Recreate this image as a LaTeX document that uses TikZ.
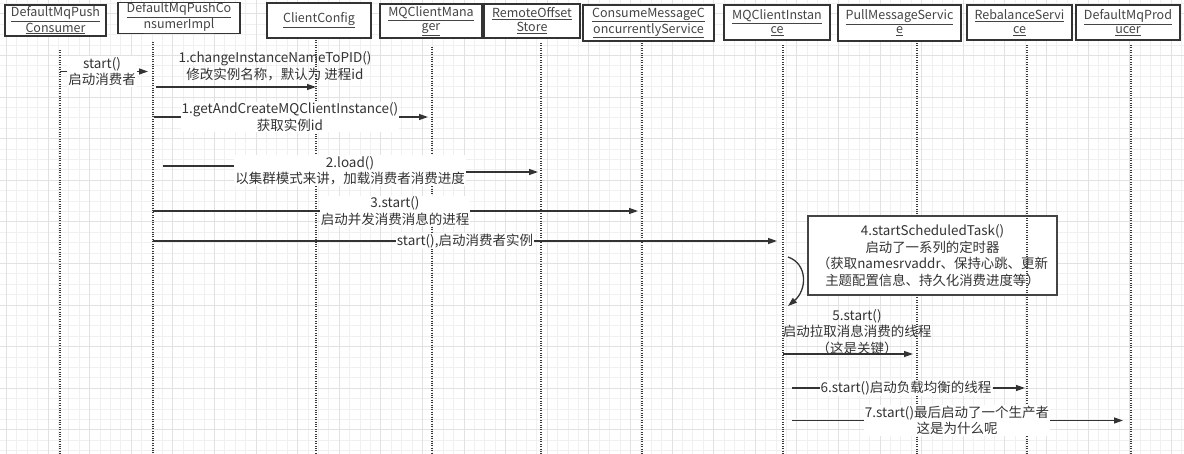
\documentclass[tikz,border=0pt]{standalone}
\usepackage{fontspec}
\setmainfont{Noto Sans CJK SC}
\usetikzlibrary{arrows.meta,positioning}

\definecolor{inkgray}{HTML}{333333}
\definecolor{txtgray}{HTML}{444444}
\definecolor{dotgray}{HTML}{3A3A3A}
\definecolor{minorline}{HTML}{F0F0F0}
\definecolor{majorline}{HTML}{E2E2E2}

\begin{document}
\begin{tikzpicture}[x=1pt,y=-1pt,
    header/.style={rectangle,
        draw=inkgray,
        line width=1.6pt,
        fill=white,
        align=center,
        inner sep=0pt,
        text=txtgray,
        font=\fontsize{12.5}{14}\selectfont},
    note/.style={rectangle,
        draw=txtgray,
        line width=1.4pt,
        fill=white,
        align=center,
        inner sep=0pt,
        text=inkgray,
        font=\fontsize{13.4}{16.6}\selectfont},
    lifeline/.style={draw=dotgray, line width=1.1pt, dash pattern=on 1.1pt off 1.3pt},
    plain/.style={draw=inkgray, line width=1.3pt},
    msg/.style={plain, -{Triangle[length=9pt,width=6pt]}},
    msglabel/.style={align=center, text=inkgray, inner sep=1pt,
        font=\fontsize{13.5}{16.5}\selectfont},
    blanklabel/.style={msglabel, fill=white},
    minorgrid/.style={draw=minorline, line width=0.8pt},
    majorgrid/.style={draw=majorline, line width=0.9pt},
    ]

    \useasboundingbox (0,0) rectangle (1184,454);
    \fill[white] (0,0) rectangle (1184,454);

    % background grid
    \foreach \k in {0,...,113}
        \draw[minorgrid] ({6.4+10.4*\k},0) -- ++(0,454);
    \foreach \k in {0,...,43}
        \draw[minorgrid] (0,{3.4+10.4*\k}) -- ++(1184,0);
    \foreach \k in {0,...,28}
        \draw[majorgrid] ({6.4+41.6*\k},0) -- ++(0,454);
    \foreach \k in {0,...,10}
        \draw[majorgrid] (0,{13.8+41.6*\k}) -- ++(1184,0);

    % participants
    \node [header, minimum width=101, minimum height=31] (pushConsumer) at (55.5,20.5)
        {\underline{DefaultMqPush}\\\underline{Consumer}};
    \node [header, minimum width=122, minimum height=30] (consumerImpl) at (179,18)
        {\underline{DefaultMqPushCo}\\\underline{nsumerImpl}};
    \node [header, minimum width=104, minimum height=35] (clientConfig) at (319,20.5)
        {\underline{ClientConfig}};
    \node [header, minimum width=102, minimum height=34] (clientManager) at (431,21)
        {\underline{MQClientMana}\\\underline{ger}};
    \node [header, minimum width=96, minimum height=34] (offsetStore) at (532,21)
        {\underline{RemoteOffset}\\\underline{Store}};
    \node [header, minimum width=131, minimum height=36] (consumeService) at (648.5,23)
        {\underline{ConsumeMessageC}\\\underline{oncurrentlyService}};
    \node [header, minimum width=106, minimum height=35] (clientInstance) at (777,22.5)
        {\underline{MQClientInstan}\\\underline{ce}};
    \node [header, minimum width=123, minimum height=36] (pullService) at (899.5,23)
        {\underline{PullMessageServic}\\\underline{e}};
    \node [header, minimum width=105, minimum height=35] (rebalanceService) at (1019.5,22.5)
        {\underline{RebalanceServi}\\\underline{ce}};
    \node [header, minimum width=104, minimum height=35] (mqProducer) at (1128,22.5)
        {\underline{DefaultMqProd}\\\underline{ucer}};

    % lifelines
    \coordinate (llConsumer) at (60,50);
    \coordinate (llImpl) at (153,42);
    \coordinate (llConfig) at (316,40);
    \coordinate (llManager) at (432,47);
    \coordinate (llOffset) at (541,43);
    \coordinate (llConsume) at (642,43);
    \coordinate (llInstance) at (783,45);
    \coordinate (llPull) at (917,43);
    \coordinate (llRebalance) at (1027,45);
    \coordinate (llProducer) at (1131,45);
    \coordinate (bottom) at (0,454);

    \foreach \ll in {llConsumer,llImpl,llConfig,llManager,llOffset,llConsume,llInstance,llPull,llProducer}
        \draw[lifeline] (\ll) -- (\ll |- bottom);

    \node [note, minimum width=249, minimum height=79] (scheduledTask) at (932.5,255.5)
        {4.startScheduledTask()\\启动了一系列的定时器\\（获取namesrvaddr、保持心跳、更新\\主题配置信息、持久化消费进度等）};
    \draw[lifeline] (llRebalance) -- (llRebalance |- bottom);

    % message labels
    \node [blanklabel] (startLbl) at (102,71.5) {start()\\启动消费者};
    \node [msglabel] (pidLbl) at (275,66) {1.changeInstanceNameToPID()\\修改实例名称，默认为 进程id};
    \node [blanklabel] (getInstLbl) at (290,117) {1.getAndCreateMQClientInstance()\\获取实例id};
    \node [blanklabel] (loadLbl) at (350,170.5) {2.load()\\以集群模式来讲，加载消费者消费进度};
    \node [blanklabel] (consumeLbl) at (395,211) {3.start()\\启动并发消费消息的进程};
    \node [blanklabel] (instStartLbl) at (465,241) {start(),启动消费者实例};
    \node [msglabel] (pullLbl) at (857,332) {5.start()\\启动拉取消息消费的线程\\（这是关键）};
    \node [blanklabel] (rebalanceLbl) at (906,388) {6.start()启动负载均衡的线程};
    \node [blanklabel] (producerLbl) at (957,420.5) {7.start()最后启动了一个生产者\\这是为什么呢};

    % messages
    \draw[plain] (llConsumer |- startLbl) -- (startLbl);
    \draw[msg] (startLbl) -- ([xshift=-5]llImpl |- startLbl);
    \draw[msg] ([xshift=3]llImpl |- 0,87) -- (llConfig |- 0,87);
    \draw[plain] ([xshift=1]llImpl |- getInstLbl) -- (getInstLbl);
    \draw[msg] (getInstLbl) -- ([xshift=-4]llManager |- getInstLbl);
    \draw[plain] ([xshift=10]llImpl |- 0,166) -- (loadLbl.west |- 0,166);
    \draw[msg] (loadLbl.east |- 0,172) -- ([xshift=-3]llOffset |- 0,172);
    \draw[plain] (llImpl |- consumeLbl) -- (consumeLbl);
    \draw[msg] (consumeLbl) -- ([xshift=-4]llConsume |- consumeLbl);
    \draw[plain] (llImpl |- instStartLbl) -- (instStartLbl);
    \draw[msg] (instStartLbl) -- ([xshift=-6]llInstance |- instStartLbl);
    \draw[msg] ([xshift=5]llInstance |- 0,257) .. controls (808,264) and (807,290) .. ([xshift=5]llInstance |- 0,306);
    \draw[msg] (llInstance |- 0,354) -- ([xshift=-4]llPull |- 0,354);
    \draw[plain] ([xshift=9]llInstance |- rebalanceLbl) -- (rebalanceLbl);
    \draw[msg] (rebalanceLbl) -- ([xshift=-2]llRebalance |- rebalanceLbl);
    \draw[plain] ([xshift=9]llInstance |- producerLbl) -- (producerLbl);
    \draw[msg] (producerLbl) -- ([xshift=-8]llProducer |- producerLbl);
\end{tikzpicture}
\end{document}
